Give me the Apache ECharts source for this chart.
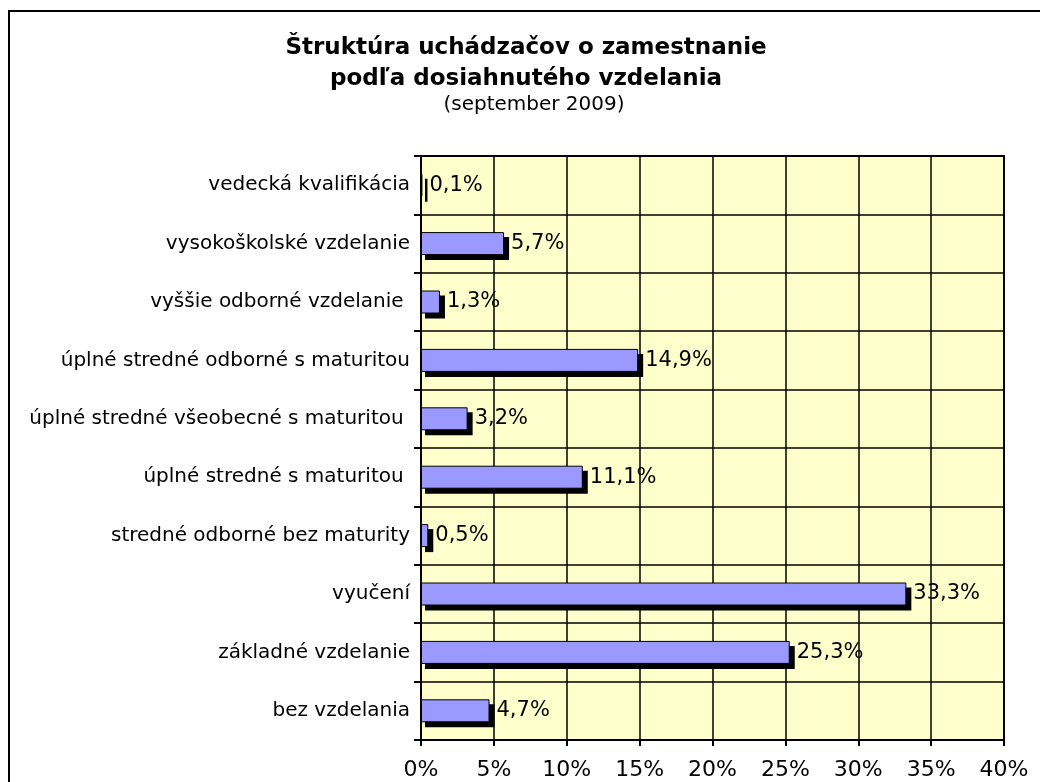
<!DOCTYPE html>
<html>
<head>
<meta charset="utf-8">
<script src="https://cdn.jsdelivr.net/npm/echarts@6/dist/echarts.min.js"></script>
<style>
  html, body { margin: 0; padding: 0; background: #fff; }
  #chart { width: 1040px; height: 782px; }
</style>
</head>
<body>
<div id="chart"></div>
<script>
// categories listed bottom to top
let categories = [
  "bez vzdelania",
  "základné vzdelanie",
  "vyučení",
  "stredné odborné bez maturity",
  "úplné stredné s maturitou ",
  "úplné stredné všeobecné s maturitou ",
  "úplné stredné odborné s maturitou",
  "vyššie odborné vzdelanie ",
  "vysokoškolské vzdelanie",
  "vedecká kvalifikácia"
];
let shares = [4.7, 25.3, 33.3, 0.5, 11.1, 3.2, 14.9, 1.3, 5.7, 0.1];
let xTicks = [0, 5, 10, 15, 20, 25, 30, 35, 40];

let font = "DejaVu Sans, Verdana, sans-serif";
let barH = 23;
let myChart = echarts.init(document.getElementById("chart"));

// black drop shadow behind each bar, placed through the axes
function shadowItem(params, api) {
  let start = api.coord([0, api.value(1)]),
    end = api.coord([api.value(0), api.value(1)]);
  return {
    type: "rect",
    shape: {
      x: start[0] + 4,
      y: start[1] - barH / 2 + 5,
      width: end[0] - start[0] + 1,
      height: barH
    },
    style: { fill: "#000" }
  };
}

let option = {
  animation: false,
  textStyle: { fontFamily: font },
  title: [
    {
      text: "Štruktúra uchádzačov o zamestnanie\npodľa dosiahnutého vzdelania",
      left: 521,
      textAlign: "center",
      top: 28,
      textStyle: {
        fontFamily: font,
        fontSize: 23,
        fontWeight: "bold",
        color: "#000",
        lineHeight: 31
      }
    },
    {
      text: "(september 2009)",
      left: 529,
      textAlign: "center",
      top: 90,
      textStyle: { fontFamily: font, fontSize: 20, fontWeight: "normal", color: "#000" }
    }
  ],
  graphic: [
    {
      type: "rect",
      shape: { x: 9, y: 11, width: 1100, height: 900 },
      style: { fill: "none", stroke: "#000", lineWidth: 2 },
      z: 100
    }
  ],
  grid: {
    left: 421,
    right: 36,
    top: 156,
    bottom: 42,
    show: true,
    backgroundColor: "#ffffcc",
    borderColor: "#000",
    borderWidth: 2
  },
  xAxis: {
    type: "value",
    min: xTicks[0],
    max: xTicks[xTicks.length - 1],
    interval: 5,
    axisLine: { show: true, lineStyle: { color: "#000", width: 2 } },
    axisTick: { show: true, length: 6, lineStyle: { color: "#000", width: 2 } },
    splitLine: { show: true, lineStyle: { color: "#000", width: 1.5 } },
    axisLabel: {
      color: "#000",
      fontSize: 22,
      margin: 19,
      formatter: function (v) { return v + "%"; }
    }
  },
  yAxis: {
    type: "category",
    data: categories,
    axisLine: { show: true, lineStyle: { color: "#000", width: 2 } },
    axisTick: { show: true, length: 7, lineStyle: { color: "#000", width: 2 } },
    splitLine: { show: true, lineStyle: { color: "#000", width: 1.5 } },
    axisLabel: { color: "#000", fontSize: 20, margin: 11 }
  },
  series: [
    {
      type: "custom",
      renderItem: shadowItem,
      data: shares.map(function (v, i) { return [v, i]; }),
      z: 1,
      silent: true
    },
    {
      type: "bar",
      data: shares,
      barWidth: barH,
      z: 2,
      itemStyle: {
        color: "#9999ff",
        borderColor: "#000",
        borderWidth: 1
      },
      label: {
        show: true,
        position: "right",
        distance: 7,
        color: "#000",
        fontSize: 21,
        fontFamily: font,
        formatter: function (p) { return String(p.value).replace(".", ",") + "%"; }
      }
    }
  ]
};

myChart.setOption(option);
</script>
</body>
</html>
